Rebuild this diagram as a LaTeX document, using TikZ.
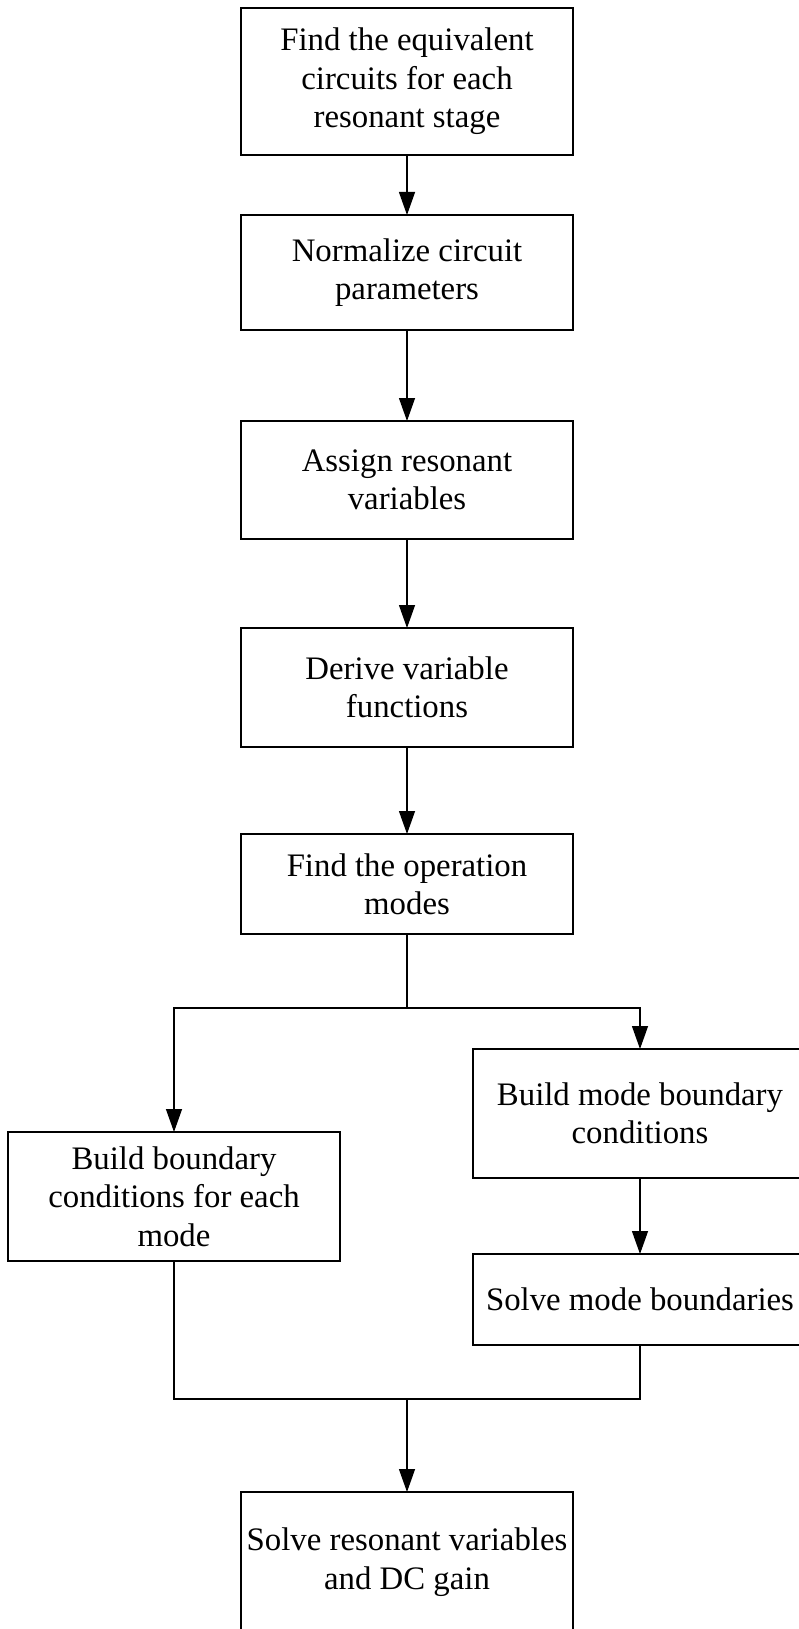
\documentclass[tikz,border=0pt]{standalone}
\usepackage{fontspec}
\setmainfont{Liberation Serif}
\usetikzlibrary{arrows.meta}
\tikzset{
  stepbox/.style={draw, line width=1.3pt, inner sep=0pt, outer sep=0pt, align=center,
    font=\fontsize{32.8}{38.4}\selectfont},
  flow/.style={line width=1.3pt, -{Triangle[length=23pt,width=16pt]}},
  wire/.style={line width=1.3pt}
}
\begin{document}
\begin{tikzpicture}[x=1pt,y=-1pt]
\useasboundingbox (0,0) rectangle (799,1629);
\node[stepbox, minimum width=332pt, minimum height=147pt] (b1) at (407,81.5)
  {Find the equivalent\\circuits for each\\resonant stage};
\node[stepbox, minimum width=332pt, minimum height=115pt] (b2) at (407,272.5)
  {Normalize circuit\\parameters};
\node[stepbox, minimum width=332pt, minimum height=118pt] (b3) at (407,480)
  {Assign resonant\\variables};
\node[stepbox, minimum width=332pt, minimum height=119pt] (b4) at (407,687.5)
  {Derive variable\\functions};
\node[stepbox, minimum width=332pt, minimum height=100pt] (b5) at (407,884)
  {Find the operation\\modes};
\node[stepbox, minimum width=332pt, minimum height=129pt] (lb) at (174,1196.5)
  {Build boundary\\conditions for each\\mode};
\node[stepbox, minimum width=334pt, minimum height=129pt] (rb1) at (640,1113.5)
  {Build mode boundary\\conditions};
\node[stepbox, minimum width=334pt, minimum height=91pt] (rb2) at (640,1299.5)
  {Solve mode boundaries};
\node[stepbox, minimum width=332pt, minimum height=140pt] (fin) at (407,1562)
  {Solve resonant variables\\and DC gain};

\coordinate (split) at (407,1008);
\coordinate (merge) at (407,1399);

\draw[flow] (b1) -- (b2);
\draw[flow] (b2) -- (b3);
\draw[flow] (b3) -- (b4);
\draw[flow] (b4) -- (b5);
\draw[wire] (b5.south) -- (split);
\draw[flow] (split) -| (lb.north);
\draw[flow] (split) -| (rb1.north);
\draw[flow] (rb1) -- (rb2);
\draw[wire] (lb.south) |- (merge);
\draw[wire] (rb2.south) |- (merge);
\draw[flow] (merge) -- (fin.north);
\end{tikzpicture}
\end{document}
